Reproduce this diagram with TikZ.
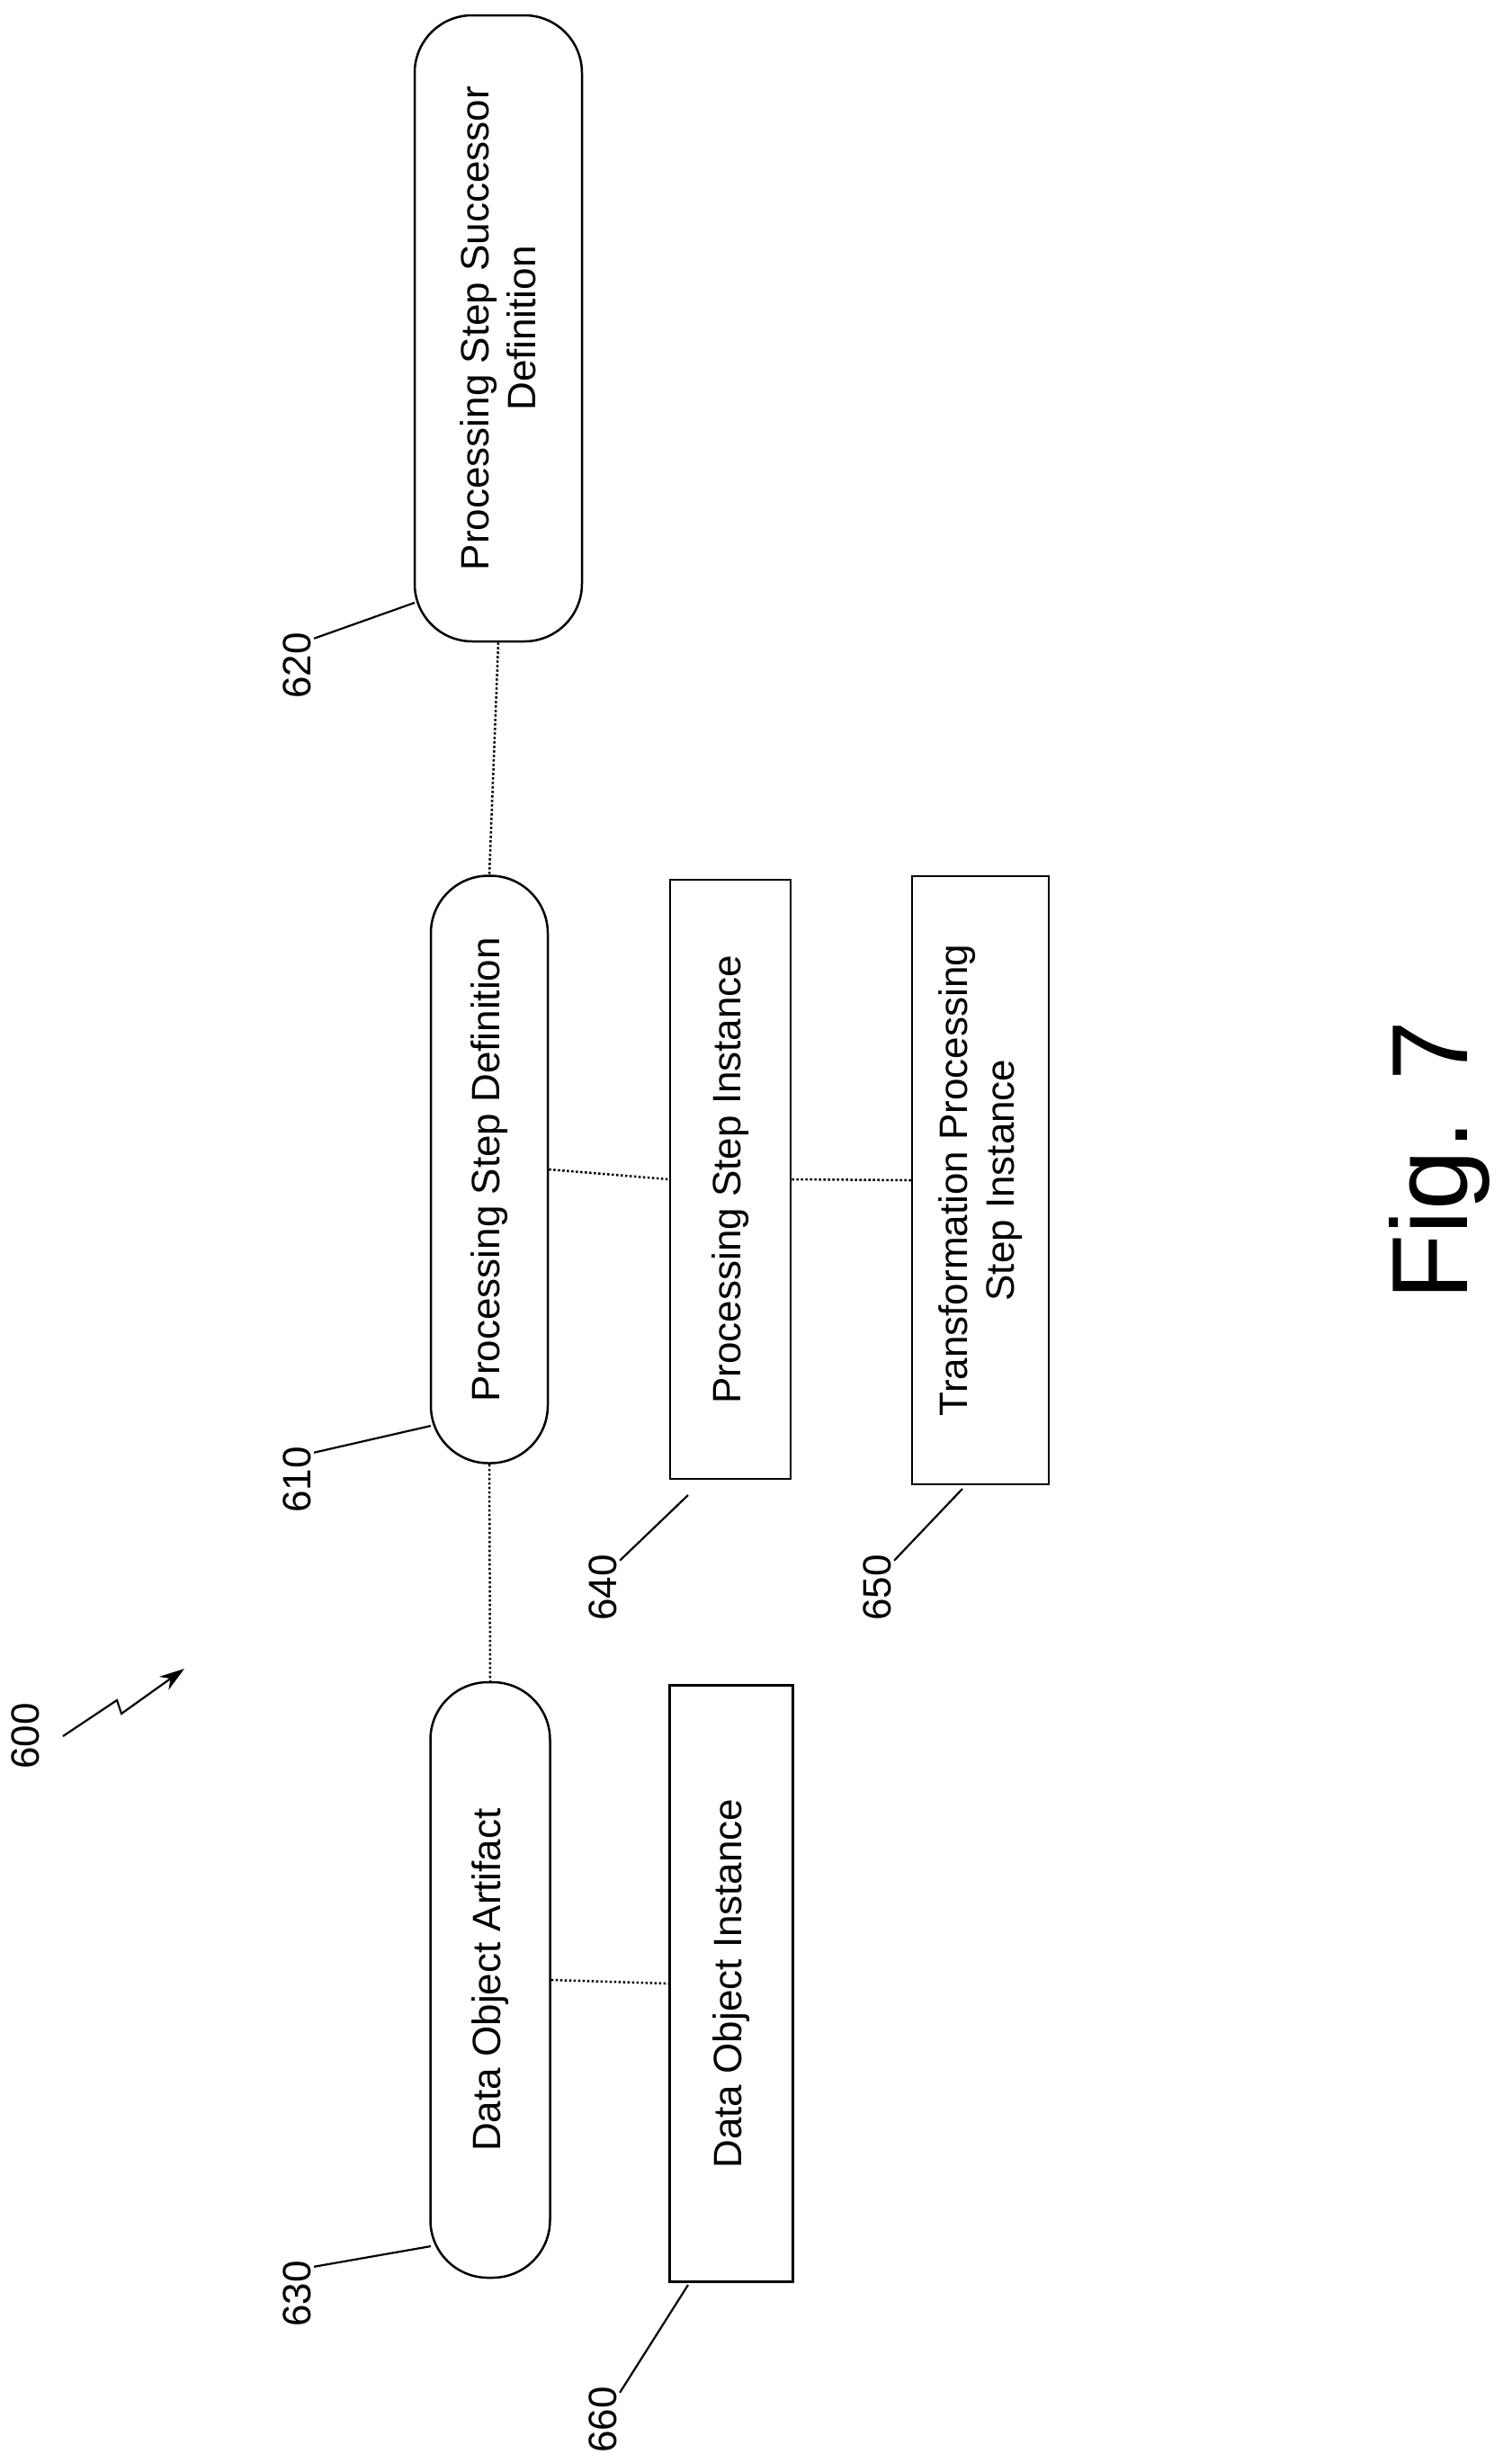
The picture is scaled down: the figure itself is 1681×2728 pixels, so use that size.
\documentclass[tikz,border=0pt]{standalone}
\usepackage{fontspec}
\setmainfont{Liberation Sans}
\usetikzlibrary{arrows.meta}
\begin{document}
\begin{tikzpicture}[x=1pt,y=-1pt,
  every node/.style={font=\fontsize{44}{52}\selectfont},
  stad/.style={draw,line width=2.5pt,rotate=90,rounded corners=64pt,inner sep=0pt,align=center},
  box/.style={draw,line width=2.5pt,rotate=90,inner sep=0pt,align=center},
  dot/.style={line width=2.5pt,dash pattern=on 2.5pt off 2.5pt},
  lead/.style={line width=2.2pt},
  lab/.style={rotate=90}]
\useasboundingbox (0,0) rectangle (1681,2728);
\node[stad,minimum width=696pt,minimum height=186pt] (n620) at (554,365) {Processing Step Successor\\Definition};
\node[stad,minimum width=653pt,minimum height=130pt] (n610) at (544,1300) {Processing Step Definition};
\node[stad,minimum width=662pt,minimum height=133pt] (n630) at (545,2201) {Data Object Artifact};
\node[box,minimum width=666pt,minimum height=134pt] (n640) at (812,1311) {Processing Step Instance};
\node[box,minimum width=676pt,minimum height=152pt] (n650) at (1090,1312) {Transformation Processing\\Step Instance};
\node[box,minimum width=663pt,minimum height=137pt] (n660) at (813,2205) {Data Object Instance};
\draw[dot] (n620.west) -- (n610.east);
\draw[dot] (n610.west) -- (n630.east);
\draw[dot] (n610.south) -- (n640.north);
\draw[dot] (n640.south) -- (n650.north);
\draw[dot] (n630.south) -- (n660.north);
\node[lab] (l620) at (330,740) {620};
\node[lab] (l610) at (330,1645) {610};
\node[lab] (l640) at (670,1765) {640};
\node[lab] (l650) at (975,1765) {650};
\node[lab] (l630) at (330,2550) {630};
\node[lab] (l660) at (670,2690) {660};
\node[lab] (l600) at (28,1930) {600};
\coordinate (e620) at (461,670);
\coordinate (e610) at (479,1585);
\coordinate (e640) at (765,1662);
\coordinate (e650) at (1070,1655);
\coordinate (e630) at (479,2497);
\coordinate (e660) at (765,2540);
\draw[lead] ([yshift=-10pt]l620.south east) -- (e620);
\draw[lead] ([yshift=-10pt]l610.south east) -- (e610);
\draw[lead] ([yshift=-10pt]l640.south east) -- (e640);
\draw[lead] ([yshift=-10pt]l650.south east) -- (e650);
\draw[lead] ([yshift=-10pt]l630.south east) -- (e630);
\draw[lead] ([yshift=-10pt]l660.south east) -- (e660);
\coordinate (a1) at (70,1930);
\coordinate (a2) at (130,1890);
\coordinate (a3) at (135,1905);
\coordinate (a4) at (205,1855);
\draw[lead,-{Stealth[length=28pt,width=18pt]}] (a1) -- (a2) -- (a3) -- (a4);
\node[rotate=90,font=\fontsize{120}{130}\selectfont] (fig) at (1600,1290) {Fig. 7};
\end{tikzpicture}
\end{document}
